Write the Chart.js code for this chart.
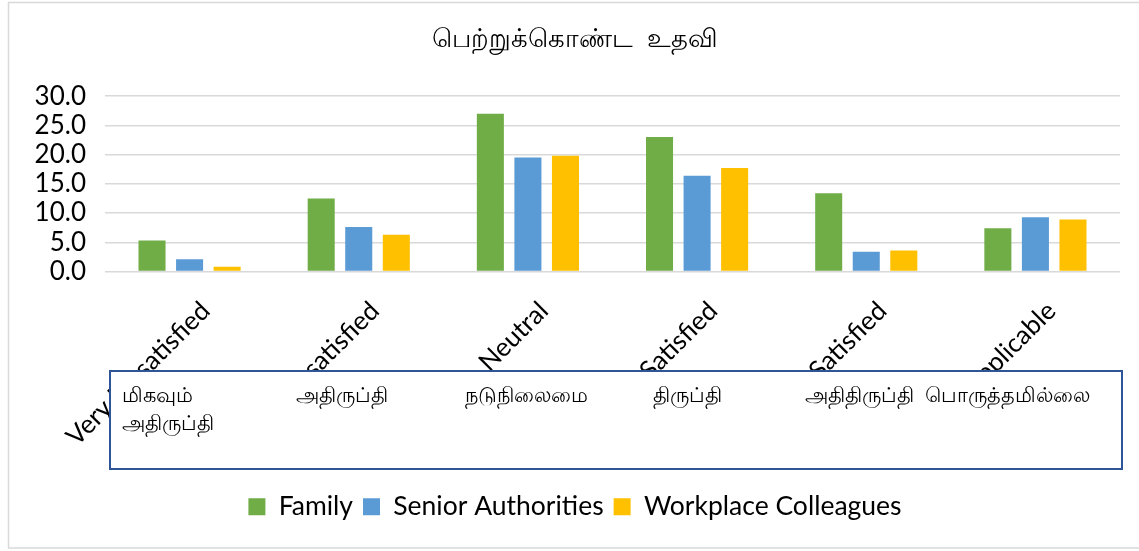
<!DOCTYPE html>
<html>
<head>
<meta charset="utf-8">
<script src="https://cdn.jsdelivr.net/npm/chart.js@4"></script>
<style>
html, body { margin: 0; padding: 0; background: #fff; }
.chart-container { width: 1139px; height: 551px; position: relative; }
</style>
</head>
<body>
<div class="chart-container"><canvas id="chart"></canvas></div>
<script>
const categories = ["Very Dissatisfied", "Dissatisfied", "Neutral", "Satisfied", "Very Satisfied", "Not Applicable"]
const tamilLabels = [["மிகவும்", "அதிருப்தி"], ["அதிருப்தி"], ["நடுநிலைமை"], ["திருப்தி"], ["அதிதிருப்தி"], ["பொருத்தமில்லை"]]
const family = [5.3, 12.5, 27.0, 23.0, 13.4, 7.4]
const seniorAuthorities = [2.1, 7.6, 19.5, 16.4, 3.4, 9.3]
const workplaceColleagues = [0.8, 6.3, 19.8, 17.7, 3.6, 8.9]
const yTicks = [0, 5, 10, 15, 20, 25, 30]

const latin = '"Lato", "Open Sans", sans-serif'
const tamil = '"Noto Sans", "Lato", sans-serif'

// white page + thin grey frame behind the chart
const frame = {
    id: "frame",
    beforeDraw(chart) {
        const ctx = chart.ctx
        ctx.save()
        ctx.fillStyle = "#fff"
        ctx.fillRect(0, 0, chart.width, chart.height)
        ctx.strokeStyle = "#d9d9d9"
        ctx.lineWidth = 1.5
        ctx.strokeRect(8.5, 2.5, 1140, 545.5)
        ctx.restore()
    }
}

// text box with the tamil category names, drawn over the rotated labels
const tamilBox = {
    id: "tamilBox",
    afterDraw(chart) {
        const ctx = chart.ctx
        ctx.save()
        ctx.fillStyle = "#fff"
        ctx.fillRect(110, 371, 1012, 98)
        ctx.strokeStyle = "#2F5597"
        ctx.lineWidth = 2
        ctx.strokeRect(110, 371, 1012, 98)
        ctx.fillStyle = "#000"
        ctx.font = "21px " + tamil
        ctx.textBaseline = "middle"
        const xs = [122, 296, 465, 653, 805, 925]
        tamilLabels.forEach((lines, i) => {
            lines.forEach((t, j) => ctx.fillText(t, xs[i], 396 + j * 28))
        })
        ctx.restore()
    }
}

const barChart = new Chart(document.getElementById("chart"), {
    type: "bar",
    data: {
        labels: categories,
        datasets: [
            { label: "Family", data: family, backgroundColor: "#70AD47" },
            { label: "Senior Authorities", data: seniorAuthorities, backgroundColor: "#5B9BD5" },
            { label: "Workplace Colleagues", data: workplaceColleagues, backgroundColor: "#FFC000" }
        ]
    },
    options: {
        responsive: true,
        maintainAspectRatio: false,
        animation: false,
        categoryPercentage: 0.666,
        barPercentage: 0.72,
        layout: { padding: { left: 30, right: 19, top: 0, bottom: 21 } },
        plugins: {
            title: {
                display: true,
                text: "பெற்றுக்கொண்ட  உதவி",
                color: "#000",
                font: { family: tamil, size: 26, weight: "normal" },
                padding: { top: 24, bottom: 41 }
            },
            legend: {
                position: "bottom",
                labels: {
                    color: "#000",
                    font: { family: latin, size: 26.5 },
                    boxWidth: 17,
                    boxHeight: 17,
                    padding: 10
                }
            },
            tooltip: { enabled: false }
        },
        scales: {
            x: {
                grid: { display: false, drawTicks: false },
                border: { display: false },
                ticks: {
                    color: "#000",
                    font: { family: latin, size: 26 },
                    minRotation: 45,
                    maxRotation: 45,
                    padding: 24,
                    labelOffset: 16,
                    autoSkip: false
                },
                afterFit(scale) { scale.height = 212 }
            },
            y: {
                min: 0,
                max: 30,
                afterBuildTicks(scale) { scale.ticks = yTicks.map(v => ({ value: v })) },
                grid: { color: "#d9d9d9", lineWidth: 1.5, drawTicks: false },
                border: { display: false },
                ticks: {
                    color: "#000",
                    font: { family: latin, size: 26 },
                    padding: 19,
                    autoSkip: false,
                    callback: v => v.toFixed(1)
                },
                afterFit(scale) { scale.width = 75 }
            }
        }
    },
    plugins: [frame, tamilBox]
})
</script>
</body>
</html>
